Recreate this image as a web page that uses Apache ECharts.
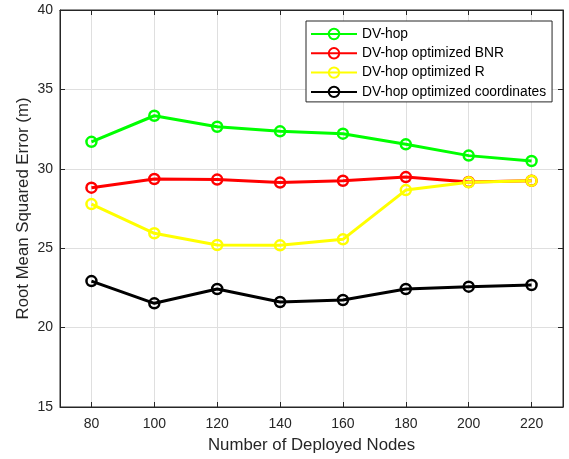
<!DOCTYPE html>
<html><head><meta charset="utf-8">
<script src="https://cdn.jsdelivr.net/npm/echarts@6/dist/echarts.min.js"></script>
<style>html,body{margin:0;padding:0;background:#fff}#c{width:569px;height:459px}</style>
</head><body><div id="c"></div>
<script>
const xValues = [80, 100, 120, 140, 160, 180, 200, 220];
const dvhop = [31.7, 33.34, 32.65, 32.36, 32.21, 31.54, 30.83, 30.49];
const dvhopBNR = [28.81, 29.36, 29.32, 29.13, 29.25, 29.48, 29.17, 29.25];
const dvhopR = [27.78, 25.94, 25.2, 25.18, 25.56, 28.66, 29.15, 29.25];
const dvhopCoord = [22.93, 21.53, 22.43, 21.61, 21.74, 22.43, 22.58, 22.68];
const seriesNames = ['DV-hop','DV-hop optimized BNR','DV-hop optimized R','DV-hop optimized coordinates'];
const colors = ['#00ff00','#ff0000','#ffff00','#000000'];
const values = [dvhop, dvhopBNR, dvhopR, dvhopCoord];

const font = 'Liberation Sans, Arial, Helvetica, sans-serif';
const txt = '#262626';
const chart = echarts.init(document.getElementById('c'), null, {renderer:'canvas'});
chart.setOption({
  animation:false,
  backgroundColor:'#fff',
  grid:{left:60,top:10,right:6,bottom:52,show:true,borderColor:txt,borderWidth:1,backgroundColor:'transparent'},
  legend:{
    left:306, top:21, orient:'vertical', backgroundColor:'#fff',
    borderColor:txt, borderWidth:1, padding:[6,6,3,4], itemGap:5.3,
    itemWidth:46, itemHeight:13,
    textStyle:{fontFamily:font,fontSize:13.8,color:'#000'},
    data:seriesNames
  },
  xAxis:[{
    type:'value', min:70, max:230,
    axisLine:{show:true,lineStyle:{color:txt,width:1}},
    axisTick:{show:true,inside:true,length:5,lineStyle:{color:txt},customValues:xValues},
    axisLabel:{fontFamily:font,fontSize:14,color:txt,margin:10,customValues:xValues},
    splitLine:{show:true,lineStyle:{color:'#dfdfdf',width:1}},
    name:'Number of Deployed Nodes', nameLocation:'middle', nameGap:30, nameMoveOverlap:false,
    nameTextStyle:{fontFamily:font,fontSize:16.8,color:txt}
  },{
    type:'value', min:70, max:230, position:'top',
    axisLine:{show:true,lineStyle:{color:txt}},
    axisTick:{show:true,inside:true,length:5,lineStyle:{color:txt},customValues:xValues},
    axisLabel:{show:false,customValues:xValues}, splitLine:{show:false}
  }],
  yAxis:[{
    type:'value', min:15, max:40, interval:5,
    axisLine:{show:true,lineStyle:{color:txt}},
    axisTick:{show:true,inside:true,length:5,lineStyle:{color:txt}},
    axisLabel:{fontFamily:font,fontSize:14,color:txt,margin:7},
    splitLine:{show:true,lineStyle:{color:'#dfdfdf',width:1}},
    name:'Root Mean Squared Error (m)', nameLocation:'middle', nameGap:28, nameMoveOverlap:false,
    nameTextStyle:{fontFamily:font,fontSize:16.8,color:txt}
  },{
    type:'value', min:15, max:40, interval:5, position:'right',
    axisLine:{show:true,lineStyle:{color:txt}},
    axisTick:{show:true,inside:true,length:5,lineStyle:{color:txt}},
    axisLabel:{show:false}, splitLine:{show:false}
  }],
  series: seriesNames.map((n,i)=>({
    name:n, type:'line', data:xValues.map((x,j)=>[x, values[i][j]]), xAxisIndex:0, yAxisIndex:0,
    symbol:'circle', symbolSize:10, showAllSymbol:true,
    lineStyle:{color:colors[i],width:3},
    itemStyle:{color:'rgba(255,255,255,0)',borderColor:colors[i],borderWidth:2.5},
    emphasis:{disabled:true}
  }))
});
</script></body></html>
